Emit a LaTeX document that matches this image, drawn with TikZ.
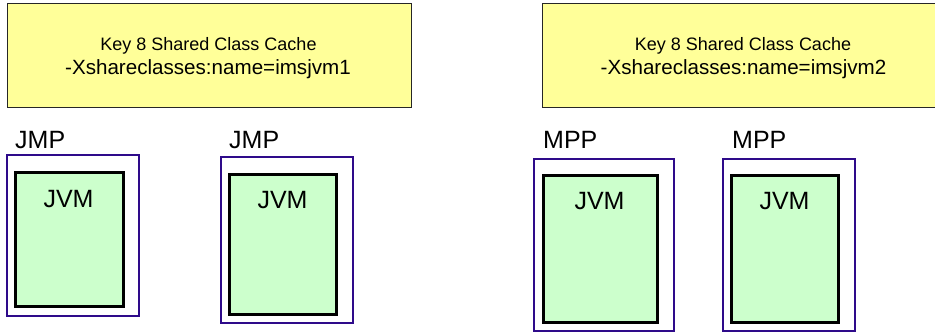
\documentclass[tikz,border=0pt]{standalone}
\usepackage{fontspec}
\setmainfont{Liberation Sans}
\definecolor{cacheyellow}{HTML}{FFFF99}
\definecolor{jvmgreen}{HTML}{CCFFCC}
\definecolor{regionpurple}{HTML}{2E0A8A}
\begin{document}
\begin{tikzpicture}[x=1pt,y=-1pt,
  cachebox/.style={draw=black!85, line width=0.9pt, fill=cacheyellow,
    anchor=north west, inner sep=0pt, outer sep=0pt},
  regionbox/.style={draw=regionpurple, line width=2pt,
    anchor=north west, inner sep=0pt, outer sep=0pt},
  jvmbox/.style={draw=black, line width=3pt, fill=jvmgreen,
    anchor=north west, inner sep=0pt, outer sep=0pt},
  cachetitle/.style={font=\fontsize{18}{21}\selectfont, anchor=base, inner sep=0pt},
  cacheopt/.style={font=\fontsize{20.6}{24}\selectfont, anchor=base, inner sep=0pt},
  regionlabel/.style={font=\fontsize{25}{30}\selectfont, anchor=base west, inner sep=0pt},
  jvmlabel/.style={font=\fontsize{25}{30}\selectfont, anchor=base, inner sep=0pt}]
\clip (0,0) rectangle (935,332);
\fill[white] (0,0) rectangle (935,332);

% shared class caches
\node[cachebox, minimum width=404pt, minimum height=104pt] (cacheA) at (7,3) {};
\node[cachetitle] (cacheAtitle) at (208.5,50.7) {Key 8 Shared Class Cache};
\node[cacheopt] (cacheAopt) at (208,74.3) {-Xshareclasses:name=imsjvm1};

\node[cachebox, minimum width=404pt, minimum height=104pt] (cacheB) at (542,3) {};
\node[cachetitle] (cacheBtitle) at (743,50.7) {Key 8 Shared Class Cache};
\node[cacheopt] (cacheBopt) at (743.5,74.3) {-Xshareclasses:name=imsjvm2};

% JMP regions
\node[regionlabel] (jmpAlabel) at (15,148) {JMP};
\node[regionbox, minimum width=132pt, minimum height=161pt] (jmpA) at (7,155) {};
\node[jvmbox, minimum width=108pt, minimum height=134pt] (jvmA) at (15,172) {};
\node[jvmlabel] (jvmAlabel) at (68.5,207.3) {JVM};

\node[regionlabel] (jmpBlabel) at (229,148) {JMP};
\node[regionbox, minimum width=132pt, minimum height=166pt] (jmpB) at (221,157) {};
\node[jvmbox, minimum width=107pt, minimum height=140pt] (jvmB) at (229,174) {};
\node[jvmlabel] (jvmBlabel) at (282.5,208.3) {JVM};

% MPP regions
\node[regionlabel] (mppAlabel) at (543,148) {MPP};
\node[regionbox, minimum width=140pt, minimum height=172pt] (mppA) at (534,158.5) {};
\node[jvmbox, minimum width=114pt, minimum height=147pt] (jvmC) at (543,175) {};
\node[jvmlabel] (jvmClabel) at (599.5,209) {JVM};

\node[regionlabel] (mppBlabel) at (732,148) {MPP};
\node[regionbox, minimum width=132pt, minimum height=172pt] (mppB) at (722.5,158.5) {};
\node[jvmbox, minimum width=107pt, minimum height=147pt] (jvmD) at (731,175) {};
\node[jvmlabel] (jvmDlabel) at (784.5,209) {JVM};
\end{tikzpicture}
\end{document}
